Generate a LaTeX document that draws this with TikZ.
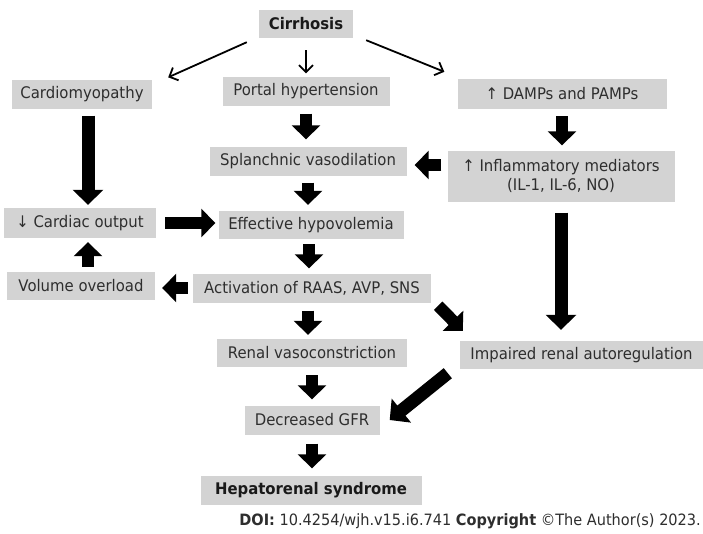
\documentclass[tikz,border=0pt]{standalone}
\usepackage{fontspec}
\setmainfont{DejaVu Sans}[FakeStretch=0.93]
\usetikzlibrary{arrows.meta,calc}
\definecolor{boxgray}{HTML}{D3D3D3}
\definecolor{txtgray}{HTML}{2E2E2E}
\tikzset{
  box/.style={fill=boxgray, inner sep=0pt, text=txtgray, font=\fontsize{16}{19}\selectfont, align=center},
  boldbox/.style={box, text=black!90, font=\fontsize{16}{19}\selectfont\bfseries},
  fat/.style={line width=12pt, -{Triangle[width=28pt,length=14pt]}},
  fatter/.style={line width=13pt, -{Triangle[width=30pt,length=15pt]}},
  slim/.style={line width=1.8pt, -{Straight Barb[length=7pt,width=14pt,line width=1.8pt]}}
}
\begin{document}
\begin{tikzpicture}[x=1pt,y=-1pt]
\useasboundingbox (0,0) rectangle (703,533);
\fill[white] (0,0) rectangle (703,533);

% nodes (centre, width, height in pixels)
\node[boldbox, minimum width=94pt, minimum height=28pt] (cirr) at (306,24) {Cirrhosis};
\node[box, minimum width=140pt, minimum height=29pt] (cardio) at (82,94) {Cardiomyopathy};
\node[box, minimum width=167pt, minimum height=29pt] (portal) at (306,91) {Portal hypertension};
\node[box, minimum width=209pt, minimum height=30pt] (damps) at (562,94) {↑ DAMPs and PAMPs};
\node[box, minimum width=197pt, minimum height=29pt] (splanch) at (308,161) {Splanchnic vasodilation};
\node[box, minimum width=227pt, minimum height=51pt] (inflam) at (561,176) {↑ Inflammatory mediators\\(IL-1, IL-6, NO)};
\node[box, minimum width=152pt, minimum height=30pt] (cardiac) at (80,223) {↓ Cardiac output};
\node[box, minimum width=185pt, minimum height=28pt] (effective) at (311,225) {Effective hypovolemia};
\node[box, minimum width=148pt, minimum height=28pt] (volume) at (81,286) {Volume overload};
\node[box, minimum width=238pt, minimum height=29pt] (activation) at (312,288) {Activation of RAAS, AVP, SNS};
\node[box, minimum width=190pt, minimum height=28pt] (renal) at (312,353) {Renal vasoconstriction};
\node[box, minimum width=243pt, minimum height=28pt] (impaired) at (581.5,355) {Impaired renal autoregulation};
\node[box, minimum width=135pt, minimum height=29pt] (decreased) at (312,420) {Decreased GFR};
\node[boldbox, minimum width=221pt, minimum height=29pt] (hrs) at (311,490) {Hepatorenal syndrome};

\node[anchor=east, inner sep=0pt, text=txtgray, font=\fontsize{15.6}{18}\selectfont] (doi) at (701,521)
  {\textbf{DOI:} 10.4254/wjh.v15.i6.741 \textbf{Copyright} ©The Author(s) 2023.};

% thin arrows from Cirrhosis
\draw[slim] ([xshift=-12pt,yshift=-4pt]cirr.south west) -- ([xshift=16pt,yshift=2pt]cardio.north east);
\draw[slim] ([yshift=-12pt]cirr.south) -- ([yshift=3pt]cirr.south |- portal.north);
\draw[slim] ([xshift=13pt,yshift=-2pt]cirr.south east) -- ([xshift=-13pt,yshift=7pt]damps.north west);

% fat arrows
\draw[fat, shorten <=8pt, shorten >=7pt] (portal.south) -- (portal.south |- splanch.north);
\draw[fat, shorten <=7pt, shorten >=6pt] (splanch.south) -- (splanch.south |- effective.north);
\draw[fat, shorten <=5pt, shorten >=5pt] ([xshift=-2pt]effective.south) -- ([xshift=-2pt]effective.south |- activation.north);
\draw[fat, shorten <=8pt, shorten >=4pt] ([xshift=-4pt]activation.south) -- ([xshift=-4pt]activation.south |- renal.north);
\draw[fat, shorten <=8pt, shorten >=6pt] (renal.south) -- (renal.south |- decreased.north);
\draw[fat, shorten <=9pt, shorten >=7pt] (decreased.south) -- (decreased.south |- hrs.north);
\draw[fat, shorten <=7pt, shorten >=5pt] (damps.south) -- (damps.south |- inflam.north);
\draw[fatter, shorten <=11pt, shorten >=11pt] (inflam.south) -- (inflam.south |- impaired.north);
\draw[fatter, shorten <=7pt, shorten >=3pt] ([xshift=6pt]cardio.south) -- ([xshift=6pt]cardio.south |- cardiac.north);
\draw[fat, shorten <=5pt, shorten >=4pt] ([xshift=7pt]volume.north) -- ([xshift=7pt]volume.north |- cardiac.south);
\draw[fat, shorten <=9pt, shorten >=3pt] (cardiac.east) -- (cardiac.east -| effective.west);
\draw[fat, shorten <=5pt, shorten >=7pt] (activation.west) -- (activation.west -| volume.east);
\draw[fat, shorten <=6pt, shorten >=8pt] ([yshift=-4pt]inflam.west |- splanch.east) -- ([yshift=-4pt]splanch.east);
\draw[fat] ([xshift=7pt,yshift=-3pt]activation.south east) -- ([xshift=3pt,yshift=10pt]impaired.north west);
\draw[fatter] ([xshift=-12pt,yshift=-4pt]impaired.south west) -- ([xshift=10pt]decreased.east);
\end{tikzpicture}
\end{document}
